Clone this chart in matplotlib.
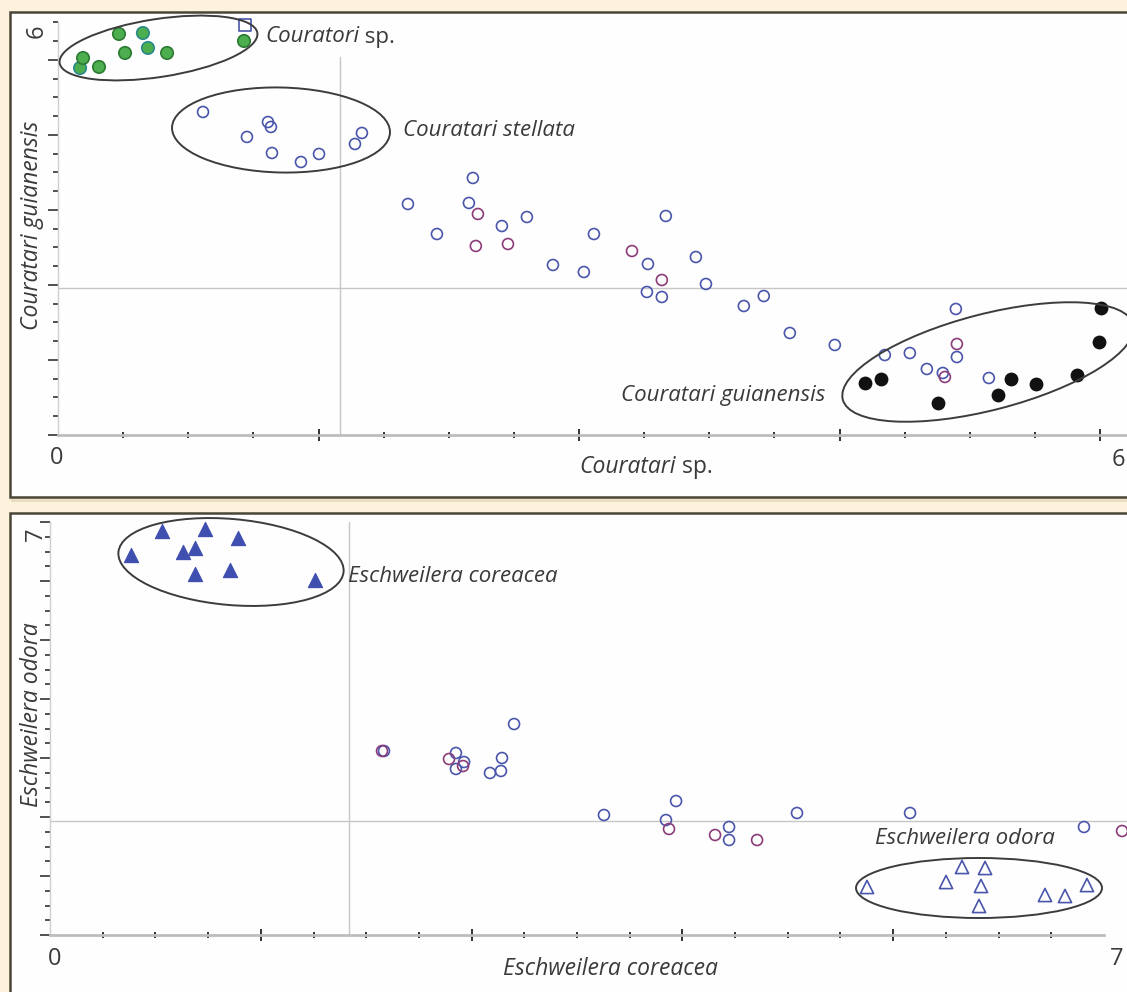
import matplotlib
matplotlib.use('Agg')
import matplotlib.pyplot as plt
import numpy as np
from matplotlib.patches import Ellipse, Rectangle
from matplotlib.transforms import Affine2D

# ---------------- data: top panel (Couratari sp. vs Couratari guianensis) ----------------
top_green_x = [0.127, 0.144, 0.236, 0.351, 0.386, 0.489, 0.518, 0.628, 1.071]
top_green_y = [5.332, 5.477, 5.347, 5.826, 5.550, 5.840, 5.623, 5.550, 5.724]
top_square_x = [1.077]
top_square_y = [5.957]
top_blue_x = [0.835, 1.088, 1.209, 1.226, 1.232, 1.399, 1.503, 1.710, 1.750,
              2.015, 2.182, 2.389, 2.366, 2.556, 2.700, 2.850, 3.028, 3.086, 3.397,
              3.500, 3.391, 3.477, 3.673, 3.731, 3.949, 4.064, 4.214, 4.473, 4.761,
              4.905, 5.170, 5.176, 5.003, 5.095, 5.360]
top_blue_y = [4.693, 4.330, 4.547, 4.475, 4.097, 3.966, 4.083, 4.228, 4.388,
              3.356, 2.920, 3.734, 3.371, 3.036, 3.167, 2.470, 2.368, 2.920, 2.484,
              3.182, 2.078, 2.005, 2.586, 2.194, 1.874, 2.019, 1.482, 1.308, 1.162,
              1.191, 1.831, 1.133, 0.959, 0.901, 0.828]
top_purple_x = [2.418, 2.406, 2.591, 3.305, 3.477, 5.176, 5.107]
top_purple_y = [3.211, 2.746, 2.775, 2.673, 2.252, 1.322, 0.843]
top_black_x = [4.646, 4.738, 5.066, 5.412, 5.486, 5.630, 5.866, 5.993, 6.005]
top_black_y = [0.755, 0.814, 0.465, 0.581, 0.814, 0.741, 0.872, 1.351, 1.845]
top_cross_x = 1.624
top_cross_y = 2.136

# ---------------- data: bottom panel (Eschweilera coreacea vs E. odora) ----------------
bot_tri_fill_x = [0.538, 0.744, 0.883, 0.963, 1.029, 0.963, 1.195, 1.249, 1.760]
bot_tri_fill_y = [6.441, 6.847, 6.492, 6.559, 6.881, 6.119, 6.186, 6.729, 6.017]
bot_blue_x = [2.218, 2.696, 2.750, 2.696, 2.922, 2.995, 3.002, 3.082, 3.679,
              4.091, 4.158, 4.510, 4.510, 4.961, 5.712, 6.867]
bot_blue_y = [3.119, 3.085, 2.932, 2.814, 2.746, 2.780, 3.000, 3.576, 2.034,
              1.949, 2.271, 1.831, 1.610, 2.068, 2.068, 1.831]
bot_purple_x = [2.205, 2.650, 2.743, 4.111, 4.417, 4.696, 7.120]
bot_purple_y = [3.119, 2.983, 2.864, 1.797, 1.695, 1.610, 1.763]
bot_tri_open_x = [5.426, 5.951, 6.057, 6.210, 6.183, 6.170, 6.608, 6.741, 6.887]
bot_tri_open_y = [0.814, 0.898, 1.153, 1.136, 0.831, 0.492, 0.678, 0.661, 0.847]
bot_cross_x = 1.986
bot_cross_y = 1.93

# ---------------- layout / style ----------------
W, H = 1127, 992
plt.rcParams['font.family'] = ['Open Sans', 'DejaVu Sans']
TC = '#3a3a3a'
BLUE = '#4a56ab'
PURPLE = '#8c3c78'
GRID = '#c6c6c6'

fig = plt.figure(figsize=(W / 100, H / 100), dpi=100, facecolor='#fdf3dc')
PX = Affine2D().scale(1 / W, -1 / H).translate(0, 1) + fig.transFigure


def px_axes(l, t, r, b):
    return fig.add_axes([l / W, 1 - b / H, (r - l) / W, (b - t) / H])


for (l, t, r, b) in [(10, 12, 1145, 497), (10, 513, 1145, 1010)]:
    fig.patches.append(Rectangle((l + 2, t + 3), r - l, b - t, transform=PX,
                                 facecolor='none', edgecolor='#e9dcc0', lw=2.0, zorder=-2))
    fig.patches.append(Rectangle((l, t), r - l, b - t, transform=PX,
                                 facecolor='#fefefe', edgecolor='#4a4538', lw=1.8, zorder=-1))


def style_axes(ax, xmaj, xmin, ymaj, ymin):
    ax.patch.set_visible(False)
    for s in ['top', 'right']:
        ax.spines[s].set_visible(False)
    ax.spines['bottom'].set_color('#bdbdbd')
    ax.spines['bottom'].set_linewidth(2.0)
    ax.spines['left'].set_color('#cfcfcf')
    ax.spines['left'].set_linewidth(1.0)
    ax.set_xticks(xmaj)
    ax.set_xticks(xmin, minor=True)
    ax.set_yticks(ymaj)
    ax.set_yticks(ymin, minor=True)
    ax.tick_params(axis='x', which='major', direction='inout', length=8, width=1.3, color='#222222')
    ax.tick_params(axis='x', which='minor', direction='inout', length=5, width=1.3, color='#222222')
    ax.tick_params(axis='y', which='major', direction='out', length=7, width=1.1, color='#222222')
    ax.tick_params(axis='y', which='minor', direction='out', length=3.5, width=1.1, color='#222222')
    ax.tick_params(labelbottom=False, labelleft=False)


# ---- top axes ----
ax1 = px_axes(58, 22, 1127, 435)
ax1.set_xlim(0, 6 * (1127 - 58) / (1100 - 58))
ax1.set_ylim(0, 6)
xm = np.arange(0.375, 6.01, 0.375)
style_axes(ax1, [1.5, 3.0, 4.5, 6.0], [v for v in xm if abs(v / 1.5 - round(v / 1.5)) > 1e-6],
           np.arange(0, 6.0, 1.09), [v for v in np.arange(0, 6.01, 0.2725)])
ax1.plot([top_cross_x, top_cross_x], [0, 5.49], color=GRID, lw=1.0, zorder=1)
ax1.axhline(top_cross_y, color=GRID, lw=1.0, zorder=1)

green_edges = ['#2a8a8a', '#2d7a33', '#2d7a33', '#2d7a33', '#2d7a33', '#2a8a8a', '#2a8a8a', '#2d7a33', '#2d7a33']
ax1.scatter(top_blue_x, top_blue_y, s=62, facecolors='none', edgecolors=BLUE, linewidths=1.2, zorder=3, clip_on=False)
ax1.scatter(top_purple_x, top_purple_y, s=62, facecolors='none', edgecolors=PURPLE, linewidths=1.2, zorder=4, clip_on=False)
ax1.scatter(top_green_x, top_green_y, s=80, facecolors='#4cae4f', edgecolors=green_edges, linewidths=1.2, zorder=4, clip_on=False)
ax1.scatter(top_square_x, top_square_y, s=66, marker='s', facecolors='none', edgecolors=BLUE, linewidths=1.2, zorder=4, clip_on=False)
ax1.scatter(top_black_x, top_black_y, s=80, facecolors='#111111', edgecolors='#111111', linewidths=1.0, zorder=4, clip_on=False)

# ---- bottom axes ----
ax2 = px_axes(50, 522, 1104, 935)
ax2.set_xlim(0, 7)
ax2.set_ylim(0, 7)
xm2 = np.arange(0.35, 7.01, 0.35)
style_axes(ax2, [1.4, 2.8, 4.2, 5.6], [v for v in xm2 if abs(v / 1.4 - round(v / 1.4)) > 1e-6],
           np.arange(0, 7.01, 1.0), np.arange(0, 7.01, 0.25))
ax2.plot([bot_cross_x, bot_cross_x], [0, 7.0], color=GRID, lw=1.0, zorder=1)
ax2.axhline(bot_cross_y, xmin=0, xmax=(1127 - 50) / (1104 - 50), color=GRID, lw=1.0, zorder=1, clip_on=False)

ax2.scatter(bot_blue_x, bot_blue_y, s=62, facecolors='none', edgecolors=BLUE, linewidths=1.2, zorder=3, clip_on=False)
ax2.scatter(bot_purple_x, bot_purple_y, s=62, facecolors='none', edgecolors=PURPLE, linewidths=1.2, zorder=3, clip_on=False)
ax2.scatter(bot_tri_fill_x, bot_tri_fill_y, s=105, marker='^', facecolors='#3f4fb0', edgecolors='#3f4fb0', linewidths=0.8, zorder=4, clip_on=False)
ax2.scatter(bot_tri_open_x, bot_tri_open_y, s=90, marker='^', facecolors='none', edgecolors=BLUE, linewidths=1.2, zorder=4, clip_on=False)

# ---- ellipses (annotation shapes, figure pixel coordinates) ----
for (cx, cy, w, h, ang) in [(158.5, 48, 200, 58, -8.7),
                            (281, 130, 218, 85, 1.3),
                            (988, 362, 300, 96, -14.5),
                            (231, 562, 226, 86, 5.0),
                            (979, 888, 246, 60, 0.0)]:
    fig.patches.append(Ellipse((cx, cy), w, h, angle=ang, transform=PX, facecolor='none',
                               edgecolor='#3c3c3c', lw=1.4, zorder=5))

# ---- text ----
renderer = fig.canvas.get_renderer()


def ptext(x, y, s, **kw):
    kw.setdefault('color', TC)
    kw.setdefault('va', 'center')
    return fig.text(x, y, s, transform=PX, **kw)


def mixed(x, y, ital, norm, size):
    t1 = ptext(x, y, ital, style='italic', size=size, ha='left')
    bb = t1.get_window_extent(renderer)
    ptext(bb.x1, y, norm, size=size, ha='left')


ANN = 16
LAB = 16.5
# top panel
mixed(265, 37, 'Couratori', ' sp.', ANN)
ptext(403, 131, 'Couratari stellata', style='italic', size=ANN, ha='left')
ptext(621, 396, 'Couratari guianensis', style='italic', size=ANN, ha='left')
mixed(579, 467, 'Couratari', ' sp.', LAB)
ptext(32, 225, 'Couratari guianensis', style='italic', size=LAB, ha='center', rotation=90)
ptext(57, 458, '0', size=17, ha='center')
ptext(1118, 460, '6', size=17, ha='center')
ptext(37, 31, '6', size=17, ha='center', rotation=90)

# bottom panel
ptext(348, 577, 'Eschweilera coreacea', style='italic', size=ANN, ha='left')
ptext(875, 839, 'Eschweilera odora', style='italic', size=ANN, ha='left')
ptext(610, 969, 'Eschweilera coreacea', style='italic', size=LAB, ha='center')
ptext(32, 715, 'Eschweilera odora', style='italic', size=LAB, ha='center', rotation=90)
ptext(55, 959, '0', size=17, ha='center')
ptext(1117, 959, '7', size=17, ha='center')
ptext(36, 534, '7', size=17, ha='center', rotation=90)

fig.savefig('out.png', dpi=100, facecolor=fig.get_facecolor())
